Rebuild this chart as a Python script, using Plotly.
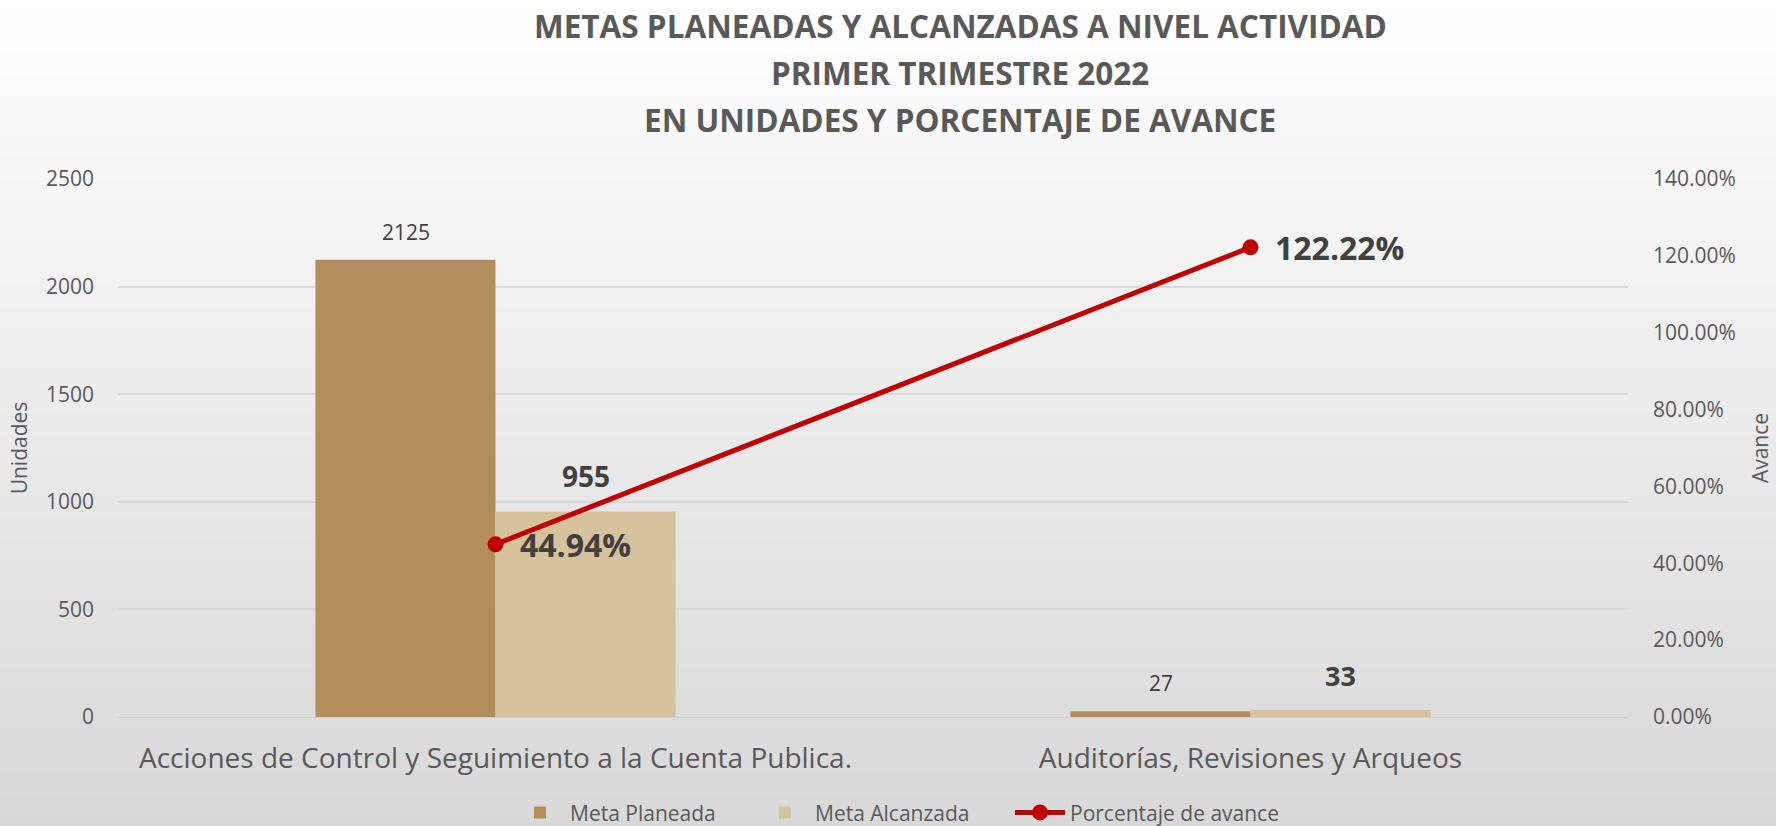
import plotly.graph_objects as go

categories = ["Acciones de Control y Seguimiento a la Cuenta Publica.", "Auditorías, Revisiones y Arqueos"]
meta_planeada = [2125, 27]
meta_alcanzada = [955, 33]
porcentaje_avance = [0.4494, 1.2222]
title_lines = ["METAS PLANEADAS Y ALCANZADAS A NIVEL ACTIVIDAD", "PRIMER TRIMESTRE 2022", "EN UNIDADES Y PORCENTAJE DE AVANCE"]

W, H = 1776, 826
L, R, T, B = 118, 148, 179, 109
PW, PH = W - L - R, H - T - B

C_PLAN = "#B38E5D"
C_ALC = "#D6C29C"
C_LINE = "#C00000"
C_TXT = "#595959"
C_LAB = "#404040"
FONT = "Open Sans"

fig = go.Figure()
fig.add_trace(go.Bar(x=categories, y=meta_planeada, name="Meta Planeada", marker_color=C_PLAN,
                     marker_line_width=0, legend="legend"))
fig.add_trace(go.Bar(x=categories, y=meta_alcanzada, name="Meta Alcanzada", marker_color=C_ALC,
                     marker_line_width=0, legend="legend2"))
fig.add_trace(go.Scatter(x=categories, y=porcentaje_avance, name="Porcentaje de avance", yaxis="y2",
                         mode="lines+markers", line=dict(color=C_LINE, width=5),
                         marker=dict(color=C_LINE, size=16), legend="legend3"))

# background gradient (white -> light grey)
n = 110
shapes = []
for i in range(n):
    y0p = i * H / n
    y1p = (i + 1) * H / n
    t = (i + 0.5) / n
    v = round(255 - (255 - 216) * t)
    shapes.append(dict(type="rect", xref="paper", yref="paper", layer="below",
                       x0=-L / PW - 0.01, x1=(W - L) / PW + 0.01,
                       y0=(H - B - y1p) / PH - 0.001, y1=(H - B - y0p) / PH + 0.001,
                       fillcolor=f"rgb({v},{v},{v})", line=dict(width=0)))

annotations = []
# title lines
title_y = [25, 72.5, 119]
for txt, yy in zip(title_lines, title_y):
    annotations.append(dict(text=f"<b>{txt}</b>", xref="paper", yref="paper",
                            x=(960 - L) / PW, y=(H - B - yy) / PH, xanchor="center", yanchor="middle",
                            showarrow=False, font=dict(family=FONT, size=31.5, color=C_TXT)))
# bar labels
for c, v in zip(categories, meta_planeada):
    annotations.append(dict(text=str(v), x=c, y=v, xref="x", yref="y", xshift=-90, yshift=12,
                            xanchor="center", yanchor="bottom", showarrow=False,
                            font=dict(family=FONT, size=21, color=C_LAB)))
for c, v, s in zip(categories, meta_alcanzada, [28, 27]):
    annotations.append(dict(text=f"<b>{v}</b>", x=c, y=v, xref="x", yref="y", xshift=90, yshift=14,
                            xanchor="center", yanchor="bottom", showarrow=False,
                            font=dict(family=FONT, size=s, color=C_LAB)))
for c, v in zip(categories, porcentaje_avance):
    annotations.append(dict(text=f"<b>{v*100:.2f}%</b>", x=c, y=v, xref="x", yref="y2", xshift=22,
                            xanchor="left", yanchor="middle", showarrow=False,
                            font=dict(family=FONT, size=32, color=C_LAB)))

# legends: one per trace so each entry sits where the reference puts it
text_starts = [570, 815, 1070]
def legend_at(px):
    return dict(orientation="h", x=(px - 60 - L) / PW, xanchor="left", y=-0.178, yanchor="middle",
                font=dict(family=FONT, size=21, color=C_TXT), bgcolor="rgba(0,0,0,0)",
                itemwidth=50)

fig.update_layout(
    width=W, height=H,
    margin=dict(l=L, r=R, t=T, b=B, pad=0, autoexpand=False),
    paper_bgcolor="rgb(216,216,216)", plot_bgcolor="rgba(0,0,0,0)",
    font=dict(family=FONT, color=C_TXT),
    barmode="group", bargap=0.523, bargroupgap=0,
    showlegend=True,
    legend=legend_at(text_starts[0]),
    legend2=legend_at(text_starts[1]),
    legend3=legend_at(text_starts[2]),
    xaxis=dict(showgrid=False, showline=True, linecolor="#D0D0D0", linewidth=1,
               tickfont=dict(family=FONT, size=28, color=C_TXT), ticklabelstandoff=16,
               zeroline=False, automargin=False),
    yaxis=dict(range=[0, 2500], dtick=500, showgrid=True, gridcolor="#D9D9D9", gridwidth=1.5,
               tickfont=dict(family=FONT, size=21, color=C_TXT), ticklabelstandoff=23,
               zeroline=False, automargin=False,
               title=dict(text="Unidades", font=dict(family=FONT, size=21, color=C_TXT), standoff=12)),
    yaxis2=dict(range=[0, 1.4], dtick=0.2, tickformat=".2%", overlaying="y", side="right",
                showgrid=False, zeroline=False, automargin=False,
                tickfont=dict(family=FONT, size=21, color=C_TXT), ticklabelstandoff=24,
                title=dict(text="Avance", font=dict(family=FONT, size=21, color=C_TXT), standoff=18)),
    shapes=shapes,
    annotations=annotations,
)

fig.write_html("out.html", config={"displayModeBar": False},
               post_script="document.body.style.margin='0';document.body.style.overflow='hidden';")
